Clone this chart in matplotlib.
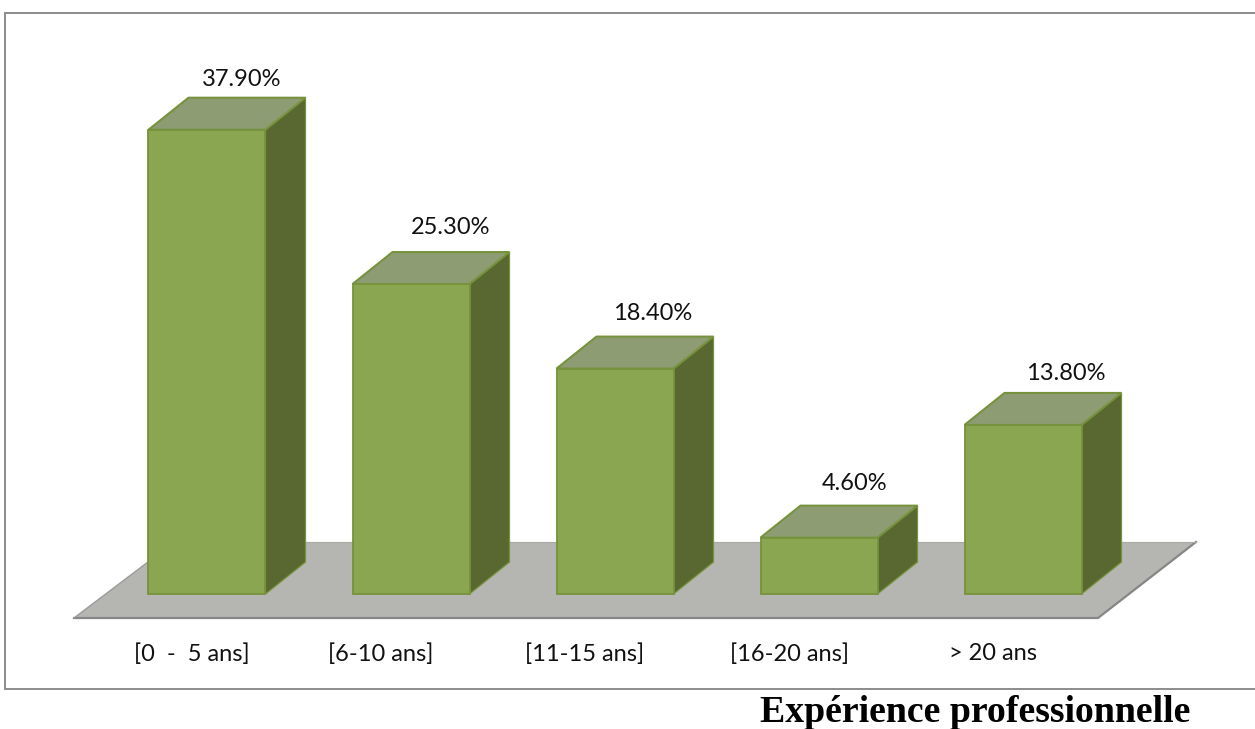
import matplotlib
matplotlib.use("Agg")
import matplotlib.pyplot as plt
from matplotlib.patches import Polygon, Rectangle

categories = ["[0  -  5 ans]", "[6-10 ans]", "[11-15 ans]", "[16-20 ans]", "> 20 ans"]
values = [37.9, 25.3, 18.4, 4.6, 13.8]
value_labels = ["37.90%", "25.30%", "18.40%", "4.60%", "13.80%"]
title = "Expérience professionnelle"

W, H = 1255, 729
PX_PER_CAT = 204.0
PX_PER_PCT = 12.25
X0_PX, Y0_PX = 207.0, 594.0

fig = plt.figure(figsize=(W / 100, H / 100), dpi=100, facecolor="white")
ax = fig.add_axes([0, 0, 1, 1])
ax.set_xlim((0 - X0_PX) / PX_PER_CAT, (W - X0_PX) / PX_PER_CAT)
ax.set_ylim((Y0_PX - H) / PX_PER_PCT, Y0_PX / PX_PER_PCT)
ax.axis("off")


def px(x, y):
    return (x - X0_PX) / PX_PER_CAT, (Y0_PX - y) / PX_PER_PCT


# chart frame
x0, y1 = px(5, 689)
x1, y0 = px(1262, 13)
ax.add_patch(Rectangle((x0, y1), x1 - x0, y0 - y1, fc="white", ec="#8C8C8C", lw=1.4, zorder=0))

# floor plane in oblique projection
floor = [px(74, 618), px(1098, 618), px(1196, 542), px(175, 542)]
ax.add_patch(Polygon(floor, closed=True, fc="#B5B6B1", ec="none", zorder=1))
ax.plot(*zip(px(74, 618), px(1098, 618), px(1196, 542)), color="#868686", lw=1.6, zorder=1.5,
        solid_joinstyle="miter")
ax.plot(*zip(px(74, 618), px(148, 562)), color="#9A9A9A", lw=1.0, zorder=1.5)
ax.plot(*zip(px(175, 542), px(1196, 542)), color="#A8A8A4", lw=0.8, zorder=1.5)

# oblique bars: side face, top face, front face
BAR_W = 117 / PX_PER_CAT
DX, DY = 40 / PX_PER_CAT, 32 / PX_PER_PCT
EDGE = "#76923C"
for i, v in enumerate(values):
    l, r = i - BAR_W / 2, i + BAR_W / 2
    ax.add_patch(Polygon([(r, 0), (r + DX, DY), (r + DX, v + DY), (r, v)], closed=True,
                         fc="#586830", ec=EDGE, lw=0.9, zorder=3, joinstyle="miter"))
    ax.add_patch(Polygon([(l, v), (r, v), (r + DX, v + DY), (l + DX, v + DY)], closed=True,
                         fc="#8E9C73", ec=EDGE, lw=1.5, zorder=3, joinstyle="miter"))
    ax.bar(i, v, width=BAR_W, color="#8BA650", edgecolor=EDGE, linewidth=1.3, zorder=4)

# value labels above each bar, placed by pixel offset from the bar's front top edge
label_dx = [35, 40, 38, 36, 43]
label_dy = [50, 57, 55, 54, 51]
for i, (v, t) in enumerate(zip(values, value_labels)):
    ax.text(i + label_dx[i] / PX_PER_CAT, v + label_dy[i] / PX_PER_PCT, t, ha="center", va="center",
            fontsize=17, family="Lato", color="#111111", zorder=5)

# category labels
cat_px = [192, 381, 585, 790, 993]
for c, cx in zip(categories, cat_px):
    tx, ty = px(cx, 654)
    ax.text(tx, ty, c, ha="center", va="center", fontsize=17, family="Lato", color="#111111", zorder=5)

tx, ty = px(975, 713)
ax.text(tx, ty, title, ha="center", va="center", fontsize=27.2, fontweight="bold",
        family="Liberation Serif", color="black", zorder=5)

fig.savefig("out.png", dpi=100, facecolor="white")
